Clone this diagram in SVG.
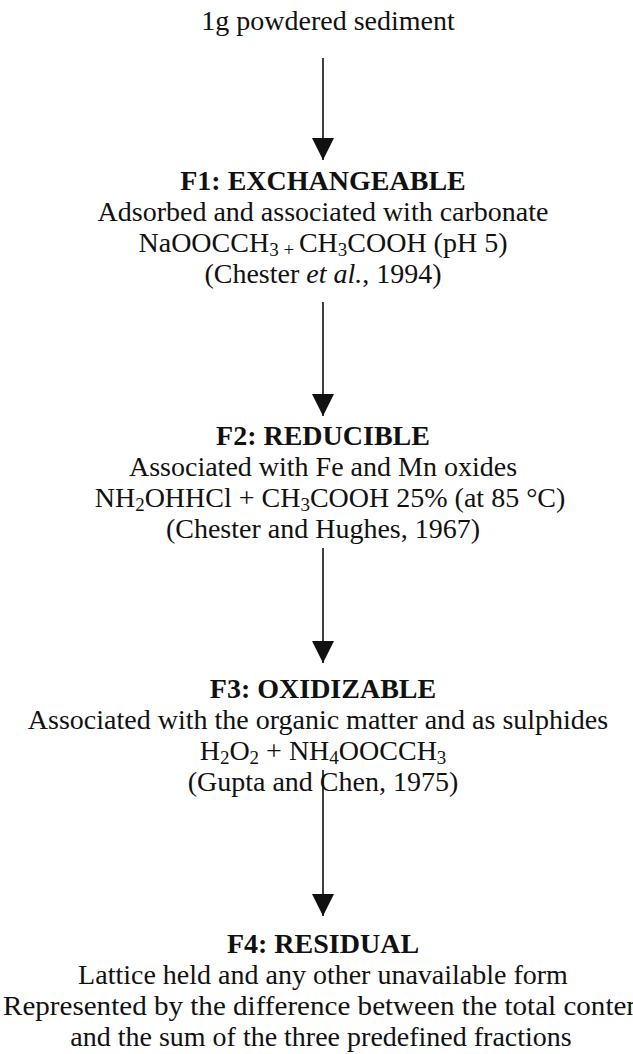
<svg xmlns="http://www.w3.org/2000/svg" width="633" height="1054" viewBox="0 0 633 1054">
<style>
text{font-family:"Liberation Serif","Times New Roman",serif;font-size:28px;fill:#111;text-anchor:middle}
.h{font-weight:bold}
.s{font-size:19px}
.i{font-style:italic}
.conn line{stroke:#111;stroke-width:1.6}
</style>
<defs>
<marker id="ah" markerUnits="userSpaceOnUse" markerWidth="24" markerHeight="22" refX="22" refY="11" orient="auto" viewBox="0 0 24 22">
<path d="M0,0 L22,11 L0,22 Z" fill="#111"/>
</marker>
</defs>
<rect width="633" height="1054" fill="#fff"/>
<g class="conn" id="connectors">
<line x1="323" y1="58" x2="323" y2="160" marker-end="url(#ah)"/>
<line x1="323" y1="302" x2="323" y2="416" marker-end="url(#ah)"/>
<line x1="323" y1="548" x2="323" y2="663" marker-end="url(#ah)"/>
<line x1="323" y1="770" x2="323" y2="916" marker-end="url(#ah)"/>
</g>
<g id="start">
<text x="328" y="30">1g powdered sediment</text>
</g>
<g id="f1">
<text class="h" x="323" y="190">F1: EXCHANGEABLE</text>
<text x="323" y="221">Adsorbed and associated with carbonate</text>
<text x="323" y="252">NaOOCCH<tspan class="s" dy="4">3 + </tspan><tspan dy="-4">CH</tspan><tspan class="s" dy="4">3</tspan><tspan dy="-4">COOH (pH 5)</tspan></text>
<text x="323" y="283">(Chester <tspan class="i">et al.</tspan>, 1994)</text>
</g>
<g id="f2">
<text class="h" x="323" y="445">F2: REDUCIBLE</text>
<text x="323" y="476">Associated with Fe and Mn oxides</text>
<text x="330" y="507">NH<tspan class="s" dy="4">2</tspan><tspan dy="-4">OHHCl + CH</tspan><tspan class="s" dy="4">3</tspan><tspan dy="-4">COOH 25% (at 85 °C)</tspan></text>
<text x="323" y="538">(Chester and Hughes, 1967)</text>
</g>
<g id="f3">
<text class="h" x="323" y="698">F3: OXIDIZABLE</text>
<text x="318" y="729">Associated with the organic matter and as sulphides</text>
<text x="323" y="760">H<tspan class="s" dy="4">2</tspan><tspan dy="-4">O</tspan><tspan class="s" dy="4">2</tspan><tspan dy="-4"> + NH</tspan><tspan class="s" dy="4">4</tspan><tspan dy="-4">OOCCH</tspan><tspan class="s" dy="4">3</tspan></text>
<text x="323" y="791">(Gupta and Chen, 1975)</text>
</g>
<g id="f4">
<text class="h" x="323" y="953">F4: RESIDUAL</text>
<text x="323" y="984">Lattice held and any other unavailable form</text>
<text x="3" y="1015" style="text-anchor:start" textLength="646" lengthAdjust="spacingAndGlyphs">Represented by the difference between the total content</text>
<text x="321" y="1046">and the sum of the three predefined fractions</text>
</g>
</svg>
